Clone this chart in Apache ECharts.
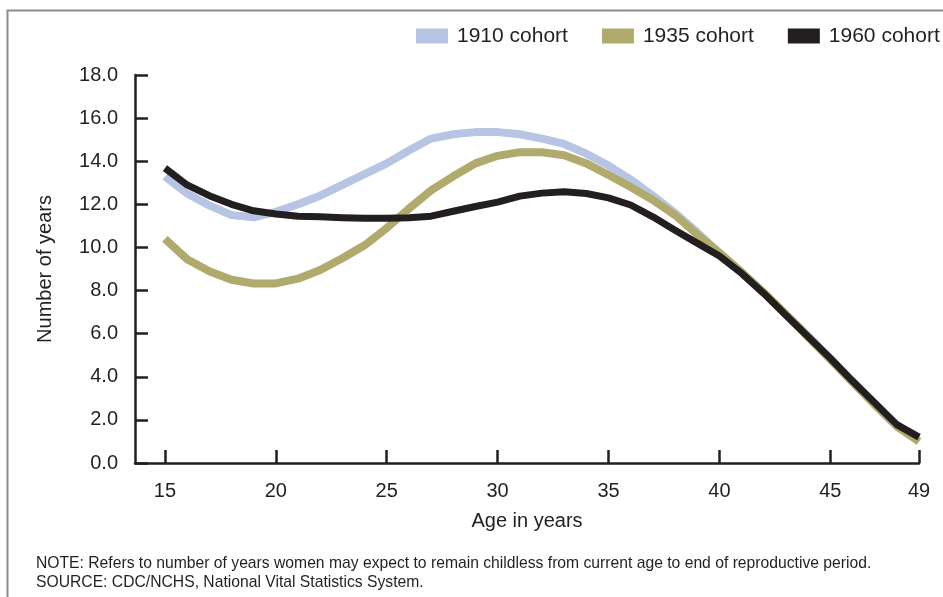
<!DOCTYPE html>
<html>
<head>
<meta charset="utf-8">
<title>Years remaining childless by cohort</title>
<script src="https://cdn.jsdelivr.net/npm/echarts@6/dist/echarts.min.js"></script>
<style>
  html, body { margin: 0; padding: 0; background: #fff; }
  #chart { width: 943px; height: 597px; }
</style>
</head>
<body>
<div id="chart"></div>
<script>
// ages 15..49
const ages = [15, 16, 17, 18, 19, 20, 21, 22, 23, 24, 25, 26, 27, 28, 29, 30, 31, 32,
  33, 34, 35, 36, 37, 38, 39, 40, 41, 42, 43, 44, 45, 46, 47, 48, 49];

const cohort1910 = [13.3, 12.5, 11.95, 11.5, 11.4, 11.65, 12.0, 12.4, 12.9, 13.4, 13.9, 14.5,
  15.05, 15.25, 15.35, 15.35, 15.25, 15.05, 14.8, 14.35, 13.8, 13.15, 12.4, 11.6, 10.7,
  9.75, 8.85, 7.9, 6.9, 5.9, 4.85, 3.8, 2.75, 1.75, 1.0];

const cohort1935 = [10.4, 9.45, 8.9, 8.5, 8.33, 8.33, 8.55, 8.95, 9.5, 10.1, 10.9, 11.8,
  12.65, 13.3, 13.9, 14.25, 14.42, 14.42, 14.28, 13.9, 13.36, 12.8, 12.2, 11.5, 10.6,
  9.75, 8.85, 7.9, 6.9, 5.85, 4.8, 3.75, 2.7, 1.7, 1.0];

const cohort1960 = [13.68, 12.9, 12.4, 12.0, 11.7, 11.55, 11.45, 11.42, 11.38, 11.35, 11.35, 11.38,
  11.45, 11.68, 11.9, 12.1, 12.38, 12.52, 12.58, 12.5, 12.3, 11.97, 11.42, 10.8, 10.2,
  9.6, 8.8, 7.87, 6.86, 5.86, 4.86, 3.8, 2.8, 1.78, 1.2];

const seriesNames = ['1910 cohort', '1935 cohort', '1960 cohort'];
const xTicks = [15, 20, 25, 30, 35, 40, 45, 49];

const colors = ['#b8c4e4', '#b0aa6c', '#231f20'];
const ink = '#231f20';
const font = 'Liberation Sans, Arial, sans-serif';

const chart = echarts.init(document.getElementById('chart'), null, { renderer: 'canvas' });

function pairs(vals) {
  return ages.map((a, i) => [a, vals[i]]);
}

function line(name, vals, color, width) {
  return {
    name: name,
    type: 'line',
    data: pairs(vals),
    showSymbol: false,
    smooth: false,
    lineStyle: { color: color, width: width, cap: 'butt', join: 'round' },
    itemStyle: { color: color },
    emphasis: { disabled: true }
  };
}

const option = {
  animation: false,
  color: colors,
  textStyle: { fontFamily: font, color: ink },
  legend: {
    left: 411,
    top: 20.5,
    width: 600,
    orient: 'horizontal',
    icon: 'rect',
    itemWidth: 32,
    itemHeight: 15,
    itemGap: 34,
    data: seriesNames,
    textStyle: { fontSize: 21, color: ink, fontFamily: font, lineHeight: 21, padding: [0, 0, 0, 4] }
  },
  grid: {
    left: 135,
    right: 24,
    top: 75,
    bottom: 134,
    containLabel: false
  },
  xAxis: {
    type: 'value',
    min: 13.65,
    max: 49,
    name: 'Age in years',
    nameLocation: 'middle',
    nameGap: 48,
    nameTextStyle: { fontSize: 20, color: ink, fontFamily: font },
    axisLine: { lineStyle: { color: ink, width: 2.5 } },
    axisTick: { inside: true, length: 13, lineStyle: { color: ink, width: 2.5 }, customValues: xTicks },
    axisLabel: { fontSize: 20, color: ink, margin: 18, customValues: xTicks },
    splitLine: { show: false }
  },
  yAxis: {
    type: 'value',
    min: 0,
    max: 18,
    interval: 2,
    name: 'Number of years',
    nameLocation: 'middle',
    nameGap: 80,
    nameTextStyle: { fontSize: 20, color: ink, fontFamily: font },
    axisLine: { show: true, lineStyle: { color: ink, width: 2.5 } },
    axisTick: { show: true, inside: true, length: 13, lineStyle: { color: ink, width: 2.5 } },
    axisLabel: { fontSize: 20, color: ink, margin: 17, formatter: v => v.toFixed(1) },
    splitLine: { show: false }
  },
  graphic: [
    {
      type: 'polyline',
      silent: true,
      shape: { points: [[7.5, 597], [7.5, 10.5], [943, 10.5]] },
      style: { stroke: '#8c8c8c', lineWidth: 2, fill: null }
    },
    {
      type: 'text',
      left: 36,
      top: 554,
      style: {
        text: 'NOTE: Refers to number of years women may expect to remain childless from current age to end of reproductive period.\nSOURCE: CDC/NCHS, National Vital Statistics System.',
        font: '15.7px ' + font,
        fill: ink,
        lineHeight: 19
      }
    }
  ],
  series: [
    line(seriesNames[0], cohort1910, colors[0], 8),
    line(seriesNames[1], cohort1935, colors[1], 8),
    line(seriesNames[2], cohort1960, colors[2], 7)
  ]
};

chart.setOption(option);
</script>
</body>
</html>
